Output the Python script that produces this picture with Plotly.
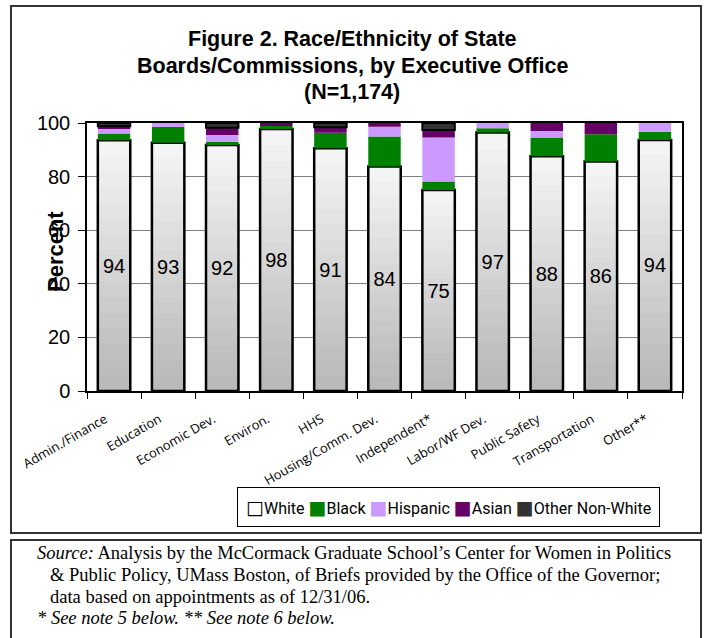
import plotly.graph_objects as go

categories = ["Admin./Finance", "Education", "Economic Dev.", "Environ.", "HHS",
              "Housing/Comm. Dev.", "Independent*", "Labor/WF Dev.", "Public Safety",
              "Transportation", "Other**"]
white = [93.6, 92.6, 91.8, 97.8, 90.6, 83.8, 75.0, 96.5, 87.6, 85.6, 93.7]
white_labels = [94, 93, 92, 98, 91, 84, 75, 97, 88, 86, 94]
black = [2.5, 6.0, 1.2, 1.1, 5.8, 11.2, 3.2, 1.5, 7.0, 10.2, 3.0]
hispanic = [1.7, 1.4, 2.5, 0, 0, 3.6, 16.4, 2.0, 2.4, 0, 3.3]
asian = [1.0, 0, 2.7, 1.1, 2.0, 1.4, 2.8, 0, 3.0, 4.2, 0]
other = [1.2, 0, 1.8, 0, 1.6, 0, 2.6, 0, 0, 0, 0]
y_ticks = [0, 20, 40, 60, 80, 100]

series_names = ["White", "Black", "Hispanic", "Asian", "Other Non-White"]
series_colors = ["#f4f4f4", "#008000", "#cc99ff", "#660066", "#333333"]

title_lines = ["Figure 2. Race/Ethnicity of State",
               "Boards/Commissions, by Executive Office",
               "(N=1,174)"]

W = 0.6
fig = go.Figure()

# White segment (base fill + value labels)
fig.add_trace(go.Bar(
    x=categories, y=white, base=[0] * len(white), name=series_names[0], width=W,
    marker=dict(color=series_colors[0], line=dict(color="black", width=2.5)),
    text=[str(v) for v in white_labels], textposition="inside",
    insidetextanchor="middle", textangle=0,
    textfont=dict(family="Liberation Sans, Arial", size=20, color="black"),
    hoverinfo="skip"))

# Gradient shading layers for White segment
N = 16
for k in range(1, N):
    fig.add_trace(go.Bar(
        x=categories, y=[v * k / N for v in white], base=[0] * len(white), width=W - 0.02,
        marker=dict(color="rgba(0,0,0,0.016)", line=dict(width=0)),
        hoverinfo="skip"))

def cum(*arrs):
    return [sum(a[i] for a in arrs) for i in range(len(arrs[0]))]

def nz(vals):
    return [v if v > 0 else None for v in vals]

stack = [
    (black, [white], dict(width=0)),
    (hispanic, [white, black], dict(width=0)),
    (asian, [white, black, hispanic], dict(width=0)),
    (other, [white, black, hispanic, asian], dict(color="black", width=2)),
]
for i, (vals, below, line) in enumerate(stack, start=1):
    fig.add_trace(go.Bar(
        x=categories, y=nz(vals), base=cum(*below), name=series_names[i], width=W,
        marker=dict(color=series_colors[i], line=line), hoverinfo="skip"))

# geometry helpers relative to plot area (px: x 87..682, y 391.5..122.5)
def px_x(p):
    return (p - 87) / 595.0

def px_y(p):
    return (391.5 - p) / 269.0

shapes = [
    dict(type="rect", xref="paper", yref="paper", x0=px_x(11), x1=px_x(701),
         y0=px_y(534), y1=px_y(5), line=dict(color="#333333", width=2)),
    dict(type="rect", xref="paper", yref="paper", x0=px_x(11), x1=px_x(701),
         y0=px_y(650), y1=px_y(541), line=dict(color="#333333", width=2)),
]

# legend text built from series names/colours
sym = ["\u25a1", "\u25a0", "\u25a0", "\u25a0", "\u25a0"]
sym_col = ["black"] + series_colors[1:]
legend_text = " ".join(
    f"<span style='color:{c};font-family:DejaVu Sans;font-size:19px'>{s}</span>{n}"
    for s, c, n in zip(sym, sym_col, series_names))

title_font = dict(family="Liberation Sans, Arial", size=21.5, color="black")
annotations = []
for t, yy in zip(title_lines, [38, 65, 91]):
    annotations.append(dict(text=f"<b>{t}</b>", xref="paper", yref="paper", x=px_x(352), y=px_y(yy),
                            xanchor="center", yanchor="middle", showarrow=False, font=title_font))
annotations += [
    dict(text="<b>Percent</b>", xref="paper", yref="paper", x=px_x(55), y=px_y(252),
         xanchor="center", yanchor="middle", textangle=-90, showarrow=False,
         font=dict(family="Liberation Sans, Arial", size=22, color="black")),
    dict(text=legend_text, xref="paper", yref="paper", x=px_x(449), y=px_y(508),
         xanchor="center", yanchor="middle", showarrow=False,
         bgcolor="white", bordercolor="black", borderwidth=1, borderpad=8,
         font=dict(family="Roboto", size=16, color="black")),
]
src_font = dict(family="Liberation Serif, Times New Roman", size=18.5, color="black")
src_lines = [
    (35, 554, "<i>Source:</i> Analysis by the McCormack Graduate School\u2019s Center for Women in Politics"),
    (48, 576, "& Public Policy, UMass Boston, of Briefs provided by the Office of the Governor;"),
    (48, 598, "data based on appointments as of 12/31/06."),
    (35, 619, "<i>* See note 5 below. ** See note 6 below.</i>"),
]
for x, y, t in src_lines:
    annotations.append(dict(text=t, xref="paper", yref="paper", x=px_x(x), y=px_y(y),
                            xanchor="left", yanchor="middle", showarrow=False, font=src_font))

fig.update_layout(
    width=704, height=638,
    margin=dict(l=87, r=22, t=122.5, b=246.5, autoexpand=False),
    paper_bgcolor="white", plot_bgcolor="white",
    barmode="overlay", bargap=0.4,
    showlegend=False,
    shapes=shapes, annotations=annotations,
    xaxis=dict(type="category", tickangle=-30, showgrid=False, showline=True,
               linecolor="black", linewidth=1.5, mirror=True, ticks="outside",
               tickson="boundaries", ticklen=6, tickcolor="black", automargin=False,
               ticklabelstandoff=14, ticklabelshift=-9,
               tickfont=dict(family="Open Sans", size=13, color="black")),
    yaxis=dict(range=[0, 100], tickvals=y_ticks, showgrid=True, gridcolor="#808080", gridwidth=1,
               showline=True, linecolor="black", linewidth=1.5, mirror=True,
               ticks="outside", ticklen=7, tickcolor="black", zeroline=False,
               ticklabelstandoff=4, automargin=False,
               tickfont=dict(family="Liberation Sans, Arial", size=20, color="black")),
)

fig.write_html("out.html", config={"displayModeBar": False},
               post_script="document.body.style.margin='0';document.body.style.overflow='hidden';")
